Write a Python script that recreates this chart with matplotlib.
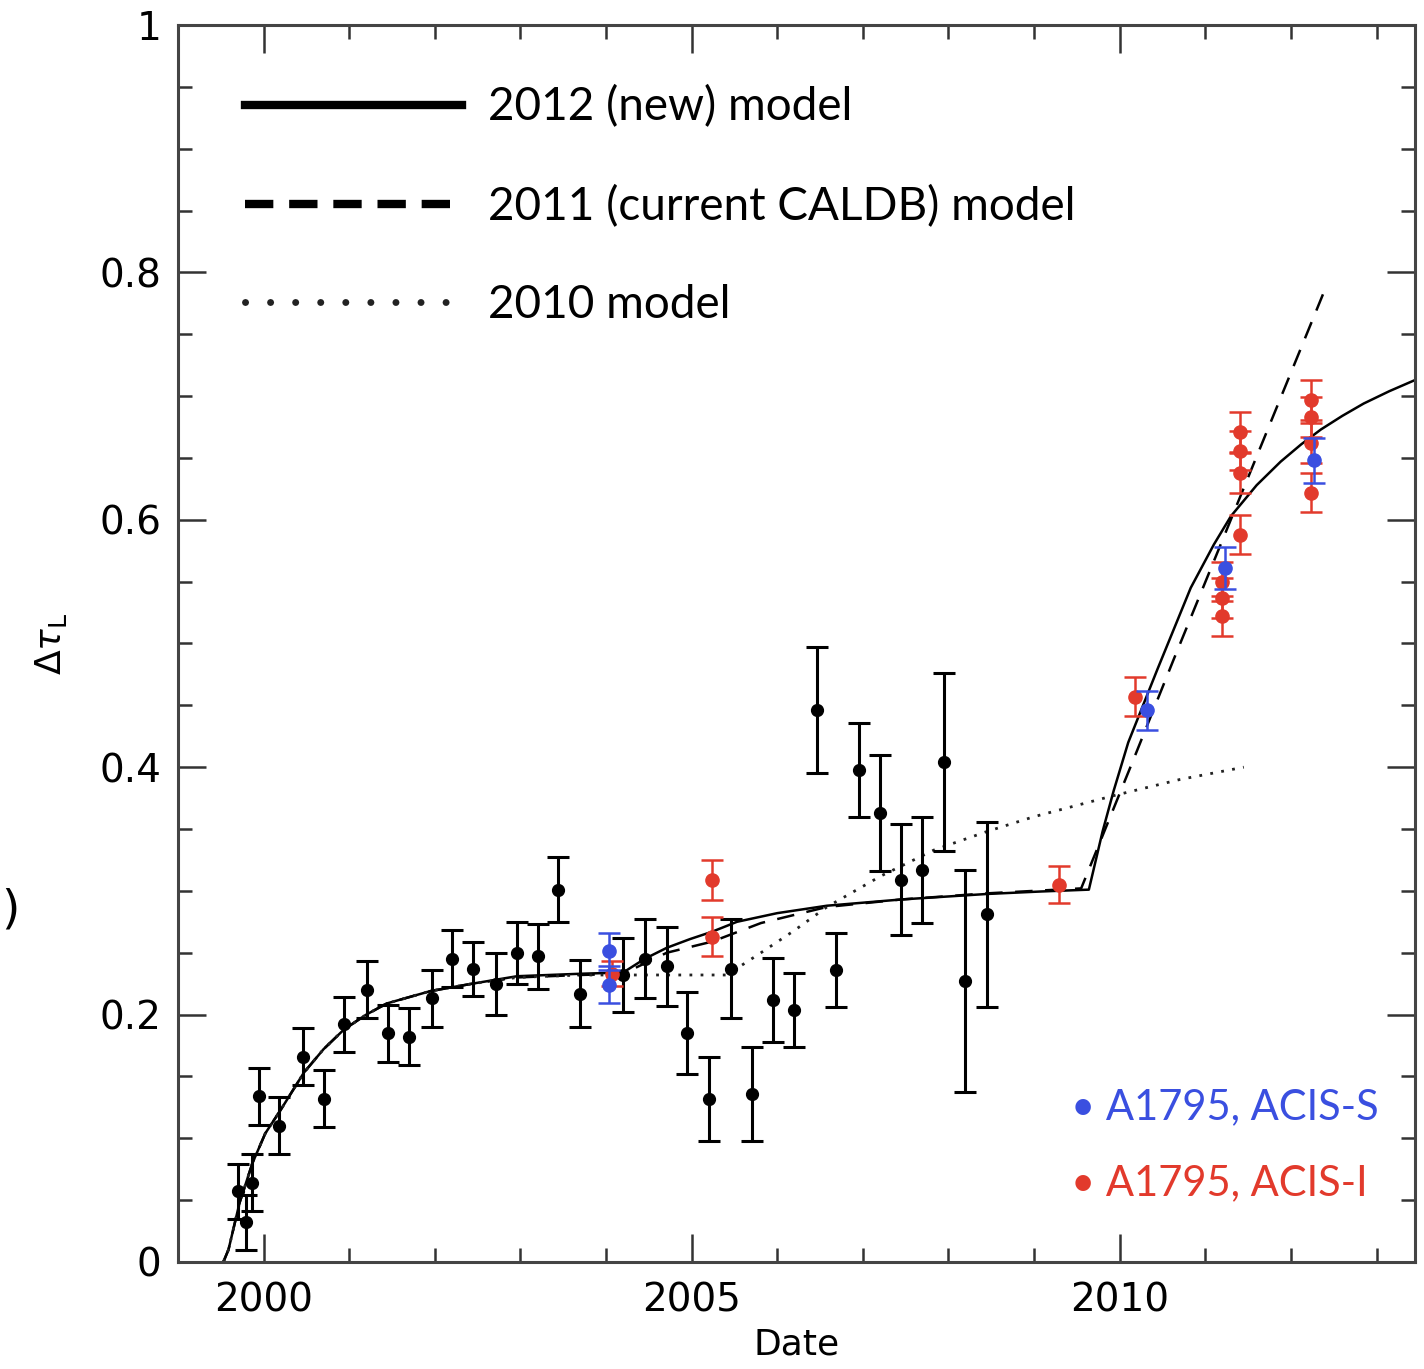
import matplotlib
matplotlib.use("Agg")
import matplotlib.pyplot as plt

# ---- data: black points (date, delta tau, error)
blk_x = [1999.70, 1999.79, 1999.86, 1999.95, 2000.18, 2000.46, 2000.70, 2000.94, 2001.21,
         2001.45, 2001.70, 2001.97, 2002.20, 2002.45, 2002.71, 2002.96, 2003.20, 2003.44,
         2003.70, 2004.20, 2004.45, 2004.71, 2004.95, 2005.20, 2005.46, 2005.70, 2005.95,
         2006.20, 2006.46, 2006.69, 2006.95, 2007.20, 2007.44, 2007.69, 2007.95, 2008.19,
         2008.45]
blk_y = [0.057, 0.032, 0.064, 0.134, 0.110, 0.166, 0.132, 0.192, 0.220,
         0.185, 0.182, 0.213, 0.245, 0.237, 0.225, 0.250, 0.247, 0.301,
         0.217, 0.232, 0.245, 0.239, 0.185, 0.132, 0.237, 0.136, 0.212,
         0.204, 0.446, 0.236, 0.398, 0.363, 0.309, 0.317, 0.404, 0.227,
         0.281]
blk_e = [0.022, 0.022, 0.023, 0.023, 0.023, 0.023, 0.023, 0.022, 0.023,
         0.023, 0.023, 0.023, 0.023, 0.022, 0.025, 0.025, 0.026, 0.026,
         0.027, 0.030, 0.032, 0.032, 0.033, 0.034, 0.040, 0.038, 0.034,
         0.030, 0.051, 0.030, 0.038, 0.047, 0.045, 0.043, 0.072, 0.090,
         0.075]

# A1795 ACIS-I (red)
red_x = [2004.07, 2005.24, 2005.24, 2009.29, 2010.18, 2011.20, 2011.20, 2011.20,
         2011.40, 2011.40, 2011.40, 2011.40, 2012.23, 2012.23, 2012.23, 2012.23]
red_y = [0.233, 0.309, 0.263, 0.305, 0.457, 0.550, 0.537, 0.522,
         0.671, 0.656, 0.638, 0.588, 0.697, 0.683, 0.662, 0.622]
red_e = [0.010, 0.016, 0.016, 0.015, 0.016, 0.016, 0.016, 0.016,
         0.016, 0.016, 0.016, 0.016, 0.016, 0.016, 0.016, 0.016]

# A1795 ACIS-S (blue)
blu_x = [2004.03, 2004.03, 2010.32, 2011.23, 2012.27]
blu_y = [0.251, 0.224, 0.446, 0.561, 0.648]
blu_e = [0.015, 0.015, 0.016, 0.017, 0.018]

# model curves
m12_x = [1999.53, 1999.59, 1999.72, 1999.87, 2000.02, 2000.20, 2000.47, 2000.70, 2000.94,
         2001.20, 2001.44, 2001.95, 2002.44, 2002.96, 2003.70, 2004.20, 2004.45, 2004.71,
         2004.98, 2005.24, 2005.53, 2006.00, 2006.58, 2007.44, 2008.45, 2009.08, 2009.64,
         2009.80, 2009.93, 2010.10, 2010.44, 2010.83, 2011.10, 2011.30, 2011.60, 2011.88,
         2012.12, 2012.35, 2012.60, 2012.85, 2013.15, 2013.45]
m12_y = [0.000, 0.010, 0.048, 0.080, 0.104, 0.123, 0.153, 0.172, 0.188,
         0.200, 0.209, 0.219, 0.225, 0.231, 0.233, 0.234, 0.245, 0.254,
         0.261, 0.267, 0.275, 0.282, 0.288, 0.293, 0.2975, 0.2995, 0.301,
         0.348, 0.381, 0.420, 0.479, 0.545, 0.580, 0.603, 0.628, 0.647,
         0.661, 0.673, 0.684, 0.694, 0.704, 0.713]

m11_x = [1999.53, 1999.59, 1999.72, 1999.87, 2000.02, 2000.20, 2000.47, 2000.70, 2000.94,
         2001.20, 2001.44, 2001.95, 2002.44, 2002.96, 2003.70, 2004.20, 2004.71, 2005.24,
         2005.81, 2006.58, 2007.44, 2008.45, 2009.55, 2010.16, 2010.63, 2012.42]
m11_y = [0.000, 0.010, 0.048, 0.080, 0.104, 0.123, 0.153, 0.172, 0.188,
         0.200, 0.209, 0.219, 0.225, 0.230, 0.232, 0.233, 0.250, 0.259,
         0.274, 0.287, 0.293, 0.298, 0.302, 0.406, 0.487, 0.790]

m10_x = [1999.53, 1999.59, 1999.72, 1999.87, 2000.02, 2000.20, 2000.47, 2000.70, 2000.94,
         2001.20, 2001.44, 2001.95, 2002.44, 2002.96, 2003.70, 2004.20, 2005.41, 2005.81,
         2006.20, 2006.58, 2007.21, 2007.83, 2008.45, 2009.00, 2009.93, 2010.70, 2011.45]
m10_y = [0.000, 0.010, 0.048, 0.080, 0.104, 0.123, 0.153, 0.172, 0.188,
         0.200, 0.209, 0.219, 0.225, 0.230, 0.232, 0.232, 0.232, 0.250,
         0.268, 0.287, 0.312, 0.333, 0.348, 0.360, 0.377, 0.390, 0.400]

legend_labels = ["2012 (new) model", "2011 (current CALDB) model", "2010 model"]
RED = "#e23a2c"
BLUE = "#3a4fe0"

fig = plt.figure(figsize=(14.24, 13.69), dpi=100)
ax = fig.add_axes([0.125, 0.0782, 0.8687, 0.9035])

l1, = ax.plot(m12_x, m12_y, color="black", lw=1.8, ls="-", label=legend_labels[0])
l2, = ax.plot(m11_x, m11_y, color="black", lw=1.8, ls=(0, (7, 5)), label=legend_labels[1])
l3, = ax.plot(m10_x, m10_y, color="#222222", lw=2.0, ls=(0, (1, 3)), label=legend_labels[2])

ax.errorbar(blk_x, blk_y, yerr=blk_e, fmt="o", color="black", ms=8.5, lw=2.2,
            capsize=8, capthick=2.2, zorder=5)
ax.errorbar(red_x, red_y, yerr=red_e, fmt="o", color=RED, ms=9.5, lw=1.8,
            capsize=8, capthick=1.8, zorder=6)
ax.errorbar(blu_x, blu_y, yerr=blu_e, fmt="o", color=BLUE, ms=9.5, lw=1.8,
            capsize=8, capthick=1.8, zorder=7)

ax.set_xlim(1999.0, 2013.45)
ax.set_ylim(0, 1)
ax.set_xticks([2000, 2005, 2010])
ax.set_xticks(range(1999, 2014), minor=True)
ax.set_yticks([0, 0.2, 0.4, 0.6, 0.8, 1.0])
ax.set_yticklabels(["0", "0.2", "0.4", "0.6", "0.8", "1"])
ax.set_yticks([i * 0.05 for i in range(21)], minor=True)
ax.tick_params(which="both", direction="in", top=True, right=True, width=1.8,
               color="#333333")
ax.tick_params(which="major", length=20, labelsize=28, pad=14)
ax.tick_params(which="minor", length=10)
ax.tick_params(axis="y", which="major", pad=12)
for s in ax.spines.values():
    s.set_linewidth(2.2)
    s.set_color("#444444")

ax.set_xlabel("Date", fontsize=26, labelpad=6)
ax.set_ylabel(r"$\Delta\tau_{\rm L}$", fontsize=26, labelpad=22)

leg = ax.legend(handles=[l1, l2, l3], loc="upper left", frameon=False,
                prop={"family": "Lato", "size": 33}, handlelength=4.75,
                handletextpad=0.55, labelspacing=1.23,
                bbox_to_anchor=(0.028, 0.977), borderaxespad=0.3)
hl = leg.get_lines()
hl[0].set_linewidth(6)
hl[1].set_linewidth(6)
hl[1].set_linestyle((0, (3.4, 1.9)))
hl[1].set_dash_capstyle("butt")
hl[2].set_linewidth(5)
hl[2].set_linestyle((0, (0.01, 3.6)))
hl[2].set_dash_capstyle("round")

ax.text(0.722, 0.125, "\u2022 A1795, ACIS-S", transform=ax.transAxes, color=BLUE,
        family="Lato", fontsize=30, va="center", ha="left")
ax.text(0.722, 0.064, "\u2022 A1795, ACIS-I", transform=ax.transAxes, color=RED,
        family="Lato", fontsize=30, va="center", ha="left")

fig.text(0.001, 0.335, ")", fontsize=34, va="center", ha="left")

fig.savefig("out.png", dpi=100)
